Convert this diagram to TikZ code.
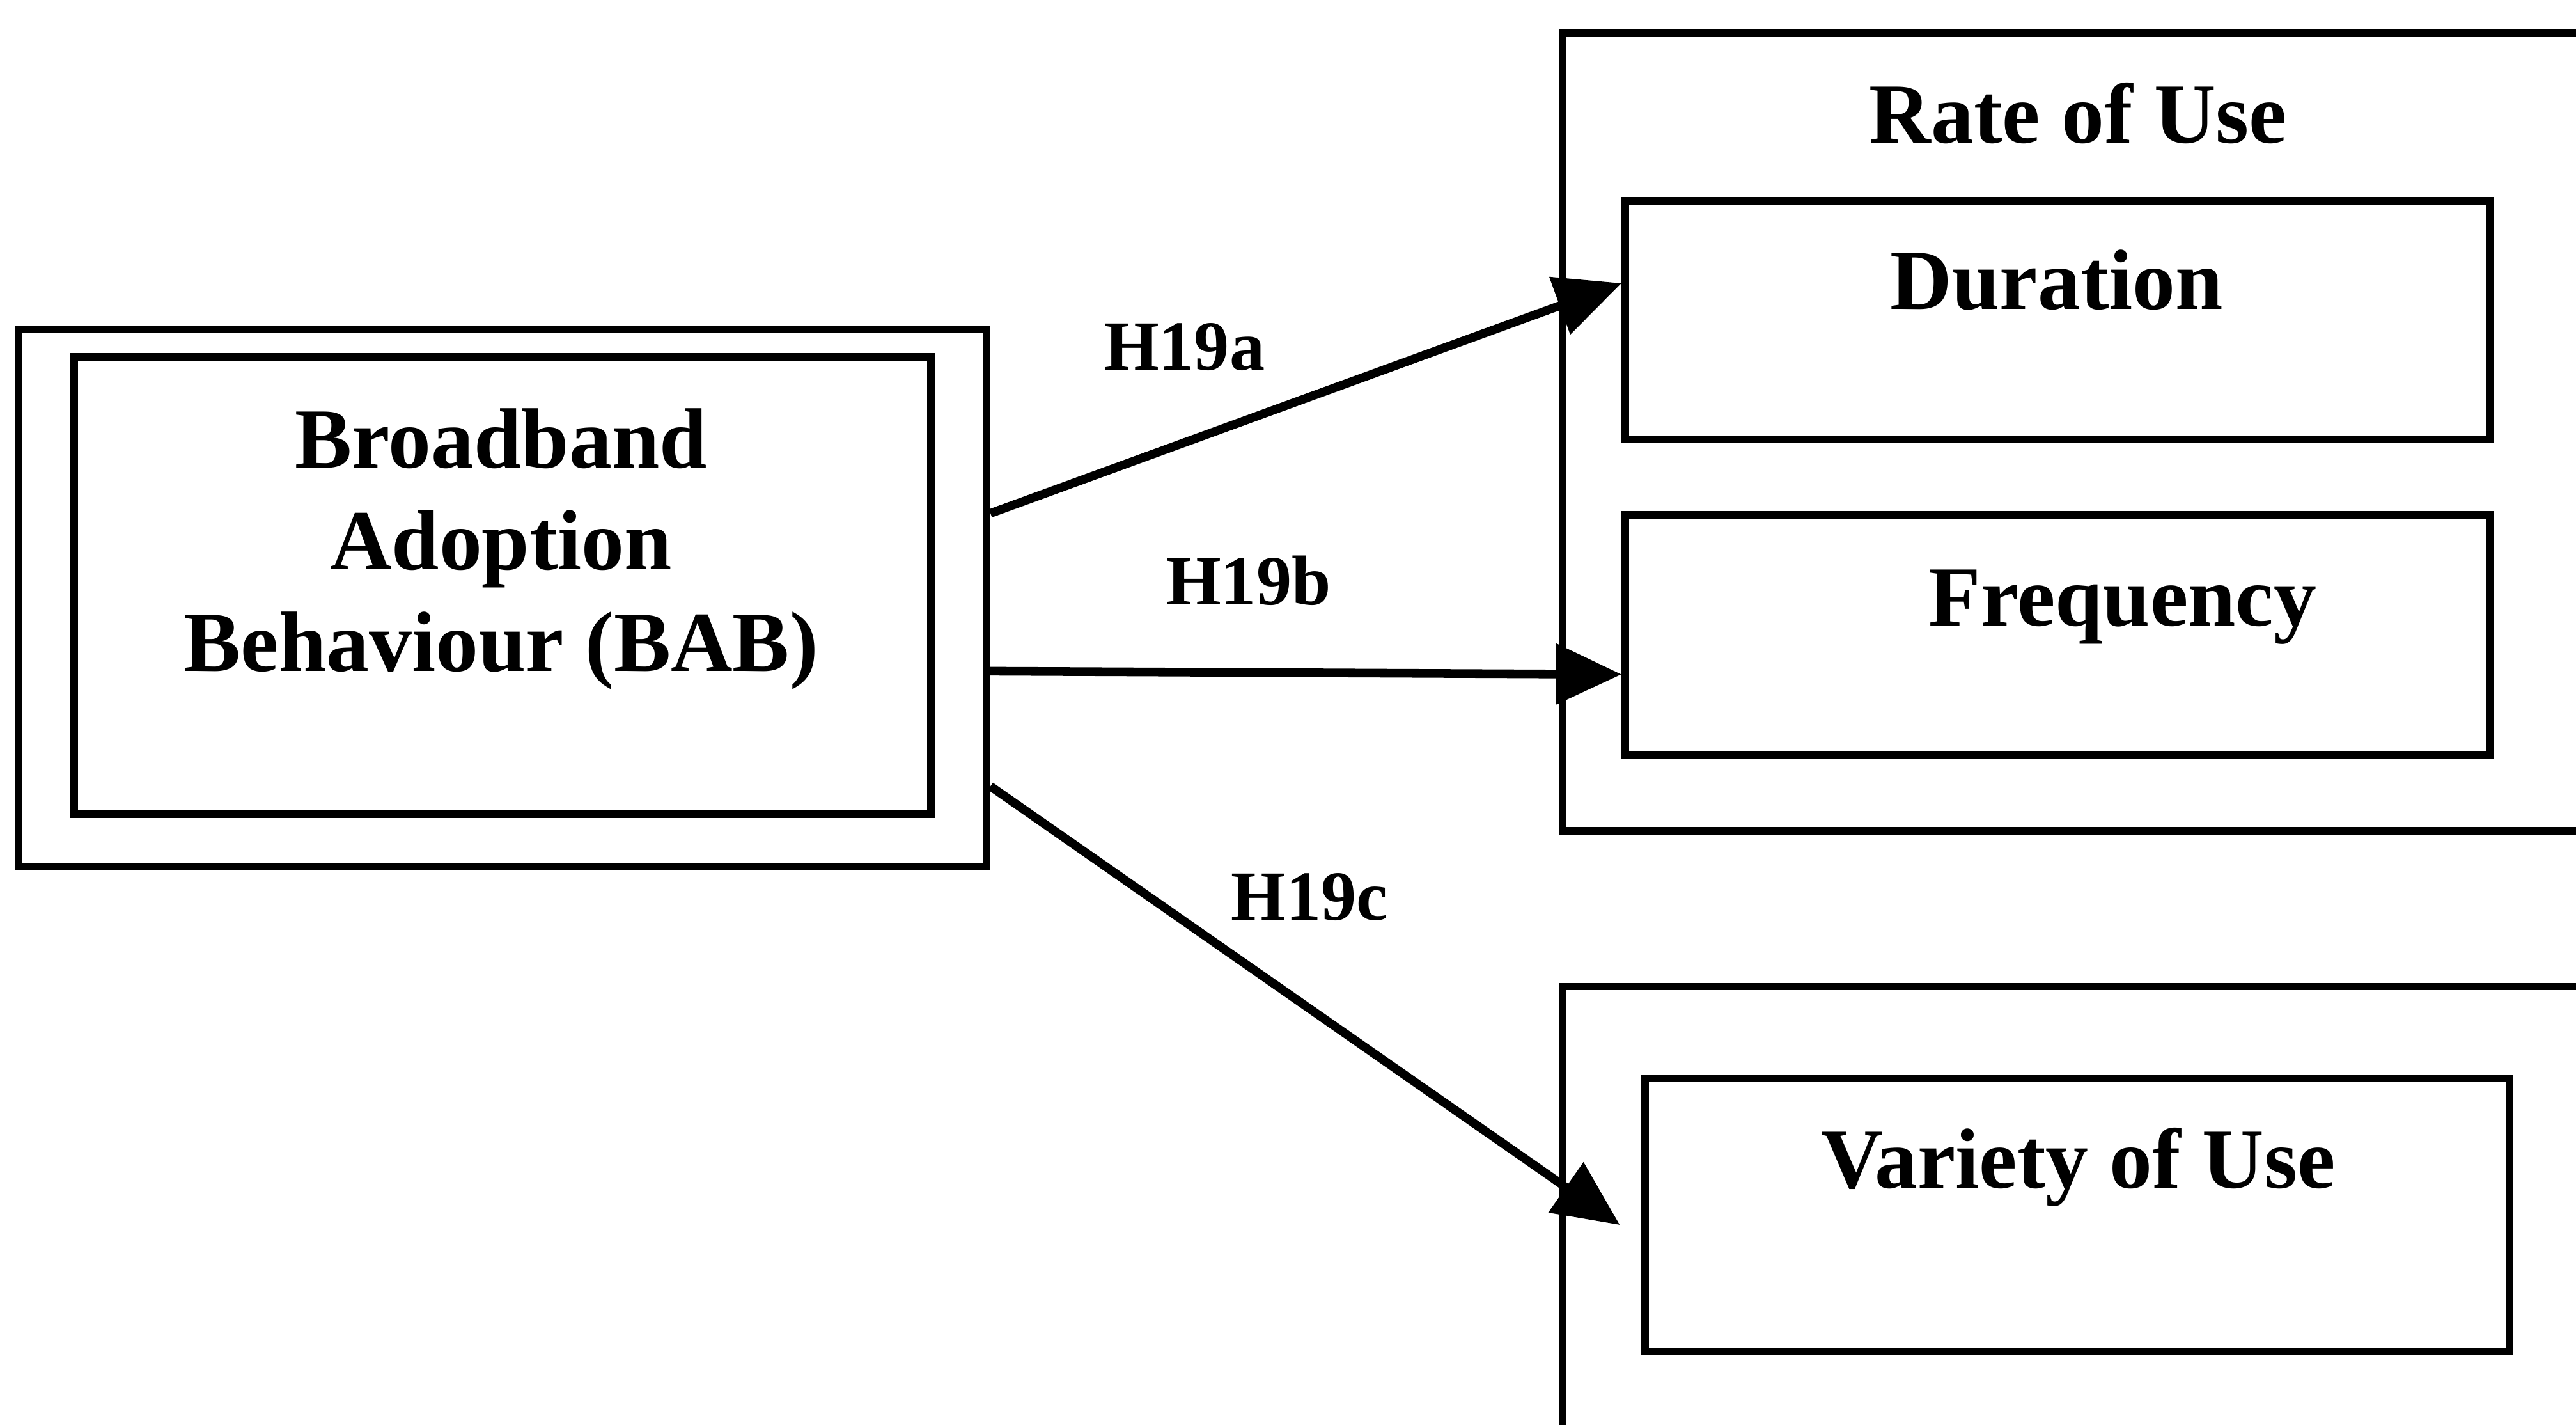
\documentclass[tikz,border=0pt]{standalone}
\usepackage{fontspec}
\setmainfont{Liberation Serif}
\usetikzlibrary{arrows.meta}

\begin{document}
\begin{tikzpicture}[x=0.01cm,y=-0.01cm,
  box/.style={draw,line width=1.3pt,rectangle,inner sep=0pt,anchor=north west},
  lbl/.style={font=\bfseries\fontsize{14.8}{17.6}\selectfont,inner sep=0pt},
  hyp/.style={font=\bfseries\fontsize{12.2}{14}\selectfont,inner sep=0pt,anchor=base},
  link/.style={line width=1.5pt,-{Triangle[length=0.4cm,width=0.36cm]}}]
\useasboundingbox (0,0) rectangle (1568,867);
\clip (0,0) rectangle (1568,867);

% source construct: double frame
\node[box,minimum width=5.89cm,minimum height=3.27cm] (bab) at (9,198) {};
\node[box,minimum width=5.21cm,minimum height=2.78cm] (babin) at (43,215) {};
\node[lbl,align=center] (babtext) at (305,334) {Broadband\\Adoption\\Behaviour (BAB)};

% rate of use group
\node[box,minimum width=6.9cm,minimum height=4.85cm] (rate) at (949,18) {};
\node[lbl,anchor=base] (ratetext) at (1265,87) {Rate of Use};
\node[box,minimum width=5.26cm,minimum height=1.45cm] (dur) at (987,120) {};
\node[lbl,anchor=base] (durtext) at (1252,188) {Duration};
\node[box,minimum width=5.26cm,minimum height=1.46cm] (freq) at (987,311) {};
\node[lbl,anchor=base] (freqtext) at (1292,381) {Frequency};

% variety of use group
\node[box,minimum width=6.9cm,minimum height=3.3cm] (vargrp) at (949,598) {};
\node[box,minimum width=5.26cm,minimum height=1.66cm] (var) at (999,654) {};
\node[lbl,anchor=base] (vartext) at (1265,723) {Variety of Use};

% hypothesised paths
\draw[link] ([yshift=0.515cm]bab.east) -- ([yshift=0.225cm]dur.west);
\draw[link] ([yshift=-0.445cm]bab.east) -- ([yshift=-0.24cm]freq.west);
\draw[link] ([yshift=-1.145cm]bab.east) -- ([xshift=-0.13cm,yshift=-0.06cm]var.west);

\node[hyp] (h19a) at (721,225) {H19a};
\node[hyp] (h19b) at (760,368) {H19b};
\node[hyp] (h19c) at (797,560) {H19c};
\end{tikzpicture}
\end{document}
